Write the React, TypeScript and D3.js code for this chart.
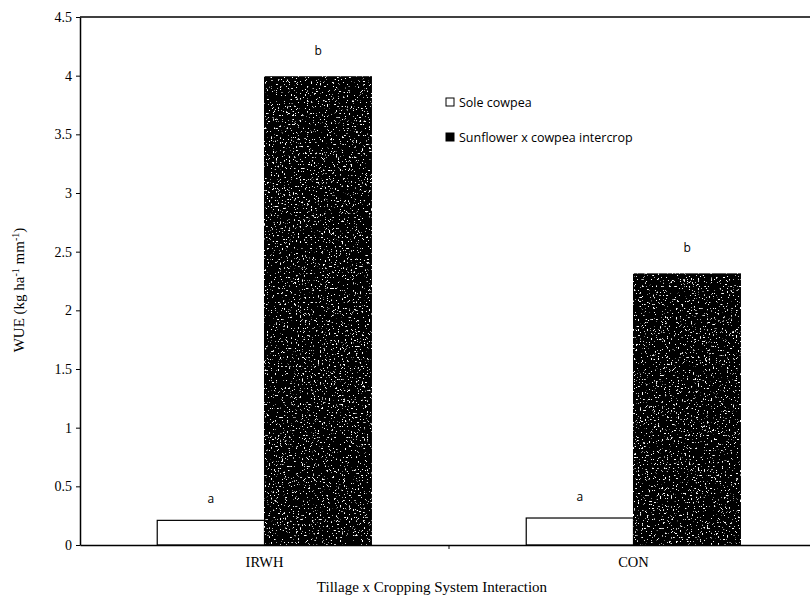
import { useEffect, useRef } from 'react';
import * as d3 from 'd3';

const categories = ['IRWH', 'CON'];
const seriesNames = ['Sole cowpea', 'Sunflower x cowpea intercrop'];
const soleCowpea = [0.21, 0.23];
const intercrop = [3.99, 2.31];
const soleLetters = ['a', 'a'];
const intercropLetters = ['b', 'b'];
const yTicks = [0, 0.5, 1, 1.5, 2, 2.5, 3, 3.5, 4, 4.5];

const W = 810;
const H = 600;
const MARGIN = { top: 17, right: -8, bottom: 55, left: 80 };
const SERIF = '"Liberation Serif", "DejaVu Serif", serif';
const SANS = '"Open Sans", "DejaVu Sans", sans-serif';

export default function App() {
  const svgRef = useRef<SVGSVGElement>(null);

  useEffect(() => {
    if (!svgRef.current) return;
    const svg = d3.select(svgRef.current);
    svg.selectAll('*').remove();

    const innerW = W - MARGIN.left - MARGIN.right;
    const innerH = H - MARGIN.top - MARGIN.bottom;

    const x = d3.scaleBand<string>().domain(categories).range([0, innerW]);
    const x1 = d3.scaleBand<number>().domain([0, 1]).range([0, x.bandwidth()]).paddingOuter(0.72);
    const y = d3.scaleLinear().domain([0, 4.5]).range([innerH, 0]);

    // speckle texture for the dark bars
    const defs = svg.append('defs');
    const filter = defs.append('filter').attr('id', 'speckle').attr('x', 0).attr('y', 0).attr('width', 1).attr('height', 1);
    filter.append('feTurbulence').attr('type', 'fractalNoise').attr('baseFrequency', 0.55).attr('numOctaves', 3).attr('seed', 7).attr('result', 'noise');
    filter.append('feColorMatrix').attr('in', 'noise').attr('type', 'matrix')
      .attr('values', '0 0 0 0 1  0 0 0 0 1  0 0 0 0 1  0 0 0 14 -9.3').attr('result', 'dots');
    filter.append('feComposite').attr('in', 'dots').attr('in2', 'SourceGraphic').attr('operator', 'in').attr('result', 'clipped');
    const merge = filter.append('feMerge');
    merge.append('feMergeNode').attr('in', 'SourceGraphic');
    merge.append('feMergeNode').attr('in', 'clipped');

    const g = svg.append('g').attr('transform', `translate(${MARGIN.left},${MARGIN.top})`);

    // top frame line
    g.append('line').attr('x1', 0).attr('x2', innerW).attr('y1', 0).attr('y2', 0)
      .attr('stroke', '#000').attr('stroke-width', 1.5);

    // Y axis
    g.append('g')
      .call(d3.axisLeft(y).tickValues(yTicks).tickSize(4).tickSizeOuter(0).tickFormat(d => String(d)))
      .call(a => a.select('.domain').attr('stroke', '#000').attr('stroke-width', 1.5))
      .call(a => a.selectAll('.tick line').attr('stroke', '#000'))
      .call(a => a.selectAll('.tick text').attr('font-family', SERIF).attr('font-size', 14).attr('fill', '#000').attr('x', -8));

    // bars
    categories.forEach((c, i) => {
      const vals = [soleCowpea[i], intercrop[i]];
      const letters = [soleLetters[i], intercropLetters[i]];
      vals.forEach((v, j) => {
        const bx = x(c)! + x1(j)!;
        g.append('rect')
          .attr('x', bx).attr('y', y(v))
          .attr('width', x1.bandwidth()).attr('height', innerH - y(v))
          .attr('fill', j === 0 ? '#fff' : '#050505')
          .attr('stroke', '#000').attr('stroke-width', 1.2)
          .attr('filter', j === 1 ? 'url(#speckle)' : null);
        g.append('text')
          .attr('x', bx + x1.bandwidth() / 2).attr('y', y(v) - (j === 0 ? 17 : 22))
          .attr('text-anchor', 'middle')
          .attr('font-family', SANS).attr('font-size', 12).attr('fill', '#000')
          .text(letters[j]);
      });
    });

    // X axis
    g.append('g')
      .attr('transform', `translate(0,${innerH})`)
      .call(d3.axisBottom(x).tickSize(0).tickSizeOuter(0))
      .call(a => a.select('.domain').attr('stroke', '#000').attr('stroke-width', 1.5))
      .call(a => a.selectAll('.tick text').attr('font-family', SERIF).attr('font-size', 14.5).attr('fill', '#000').attr('dy', '1.3em'));
    // category separator tick
    g.append('line')
      .attr('x1', x('CON')!).attr('x2', x('CON')!).attr('y1', innerH).attr('y2', innerH + 4)
      .attr('stroke', '#000');

    // axis titles
    svg.append('text')
      .attr('x', 432).attr('y', 592)
      .attr('text-anchor', 'middle')
      .attr('font-family', SERIF).attr('font-size', 15).attr('fill', '#000')
      .text('Tillage x Cropping System Interaction');

    const yl = svg.append('text')
      .attr('transform', `translate(24,${290}) rotate(-90)`)
      .attr('text-anchor', 'middle')
      .attr('font-family', SERIF).attr('font-size', 15).attr('fill', '#000');
    yl.append('tspan').text('WUE (kg ha');
    yl.append('tspan').attr('font-size', 10).attr('dy', -5).text('-1');
    yl.append('tspan').attr('dy', 5).text(' mm');
    yl.append('tspan').attr('font-size', 10).attr('dy', -5).text('-1');
    yl.append('tspan').attr('dy', 5).text(')');

    // legend
    const legend = svg.append('g').attr('transform', 'translate(446,0)');
    seriesNames.forEach((name, i) => {
      const ly = 102 + i * 35;
      legend.append('rect')
        .attr('x', 0).attr('y', ly - 4).attr('width', 8).attr('height', 8)
        .attr('fill', i === 0 ? '#fff' : '#000').attr('stroke', '#000').attr('stroke-width', 1);
      legend.append('text')
        .attr('x', 13).attr('y', ly + 4.5)
        .attr('font-family', SANS).attr('font-size', 12.5).attr('fill', '#000')
        .text(name);
    });
  }, []);

  return (
    <svg ref={svgRef} width={W} height={H} style={{ position: 'absolute', left: 0, top: 0, background: '#fff' }} />
  );
}
